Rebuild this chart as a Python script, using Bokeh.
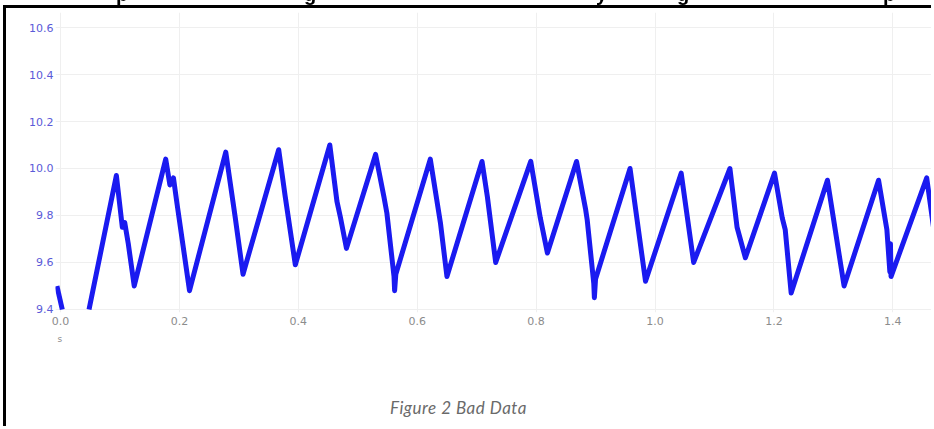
from bokeh.plotting import figure
from bokeh.models import Range1d, FixedTicker, NumeralTickFormatter, Title, Div
from bokeh.layouts import column
from bokeh.embed import file_html
from bokeh.resources import INLINE

# short spike at the start of the record
spike_t = [-0.006, 0.003]
spike_v = [9.50, 9.40]

# main trace (key points)
trace_t = [0.048, 0.094, 0.104, 0.108, 0.114, 0.124, 0.177, 0.184, 0.190, 0.196, 0.217,
           0.278, 0.290, 0.294, 0.307, 0.367, 0.378, 0.395, 0.453, 0.465, 0.471, 0.481,
           0.530, 0.544, 0.549, 0.561, 0.562, 0.564, 0.622, 0.639, 0.650, 0.709, 0.718,
           0.732, 0.791, 0.807, 0.819, 0.868, 0.883, 0.886, 0.897, 0.898, 0.900, 0.958,
           0.984, 1.044, 1.065, 1.126, 1.138, 1.152, 1.201, 1.214, 1.219, 1.229, 1.290,
           1.318, 1.376, 1.390, 1.395, 1.396, 1.397, 1.457, 1.470]
trace_v = [9.40, 9.97, 9.75, 9.77, 9.68, 9.50, 10.04, 9.93, 9.96, 9.85, 9.48,
           10.07, 9.86, 9.79, 9.55, 10.08, 9.88, 9.59, 10.10, 9.86, 9.79, 9.66,
           10.06, 9.88, 9.81, 9.54, 9.48, 9.55, 10.04, 9.77, 9.54, 10.03, 9.88,
           9.60, 10.03, 9.79, 9.64, 10.03, 9.83, 9.78, 9.51, 9.45, 9.53, 10.00,
           9.52, 9.98, 9.60, 10.00, 9.75, 9.62, 9.98, 9.79, 9.74, 9.47, 9.95,
           9.50, 9.95, 9.74, 9.56, 9.68, 9.54, 9.96, 9.72]

y_ticks = [9.4, 9.6, 9.8, 10.0, 10.2, 10.4, 10.6]
x_ticks = [0.0, 0.2, 0.4, 0.6, 0.8, 1.0, 1.2, 1.4]
x_unit = "s"
caption = "Figure 2 Bad Data"
# only the descenders of the cut-off heading above the box are visible
title_letters = ["p", "g", "y", "g", "p"]
title_letter_px = [116, 304, 596, 677, 883]

spans = "".join(
    f'<span style="position:fixed;left:{x}px;top:-16px;font-weight:bold;line-height:20px;'
    f'font-size:20px;font-family:\'Liberation Sans\';color:black;">{ch}</span>'
    for ch, x in zip(title_letters, title_letter_px))
top_div = Div(text=f'<div style="width:934px;height:5px;">{spans}</div>',
              width=934, height=5, margin=(0, 0, 0, 0))

p = figure(width=928, height=342, output_backend="svg", toolbar_location=None,
           x_range=Range1d(-0.0084, 1.4701), y_range=Range1d(9.387, 10.664),
           min_border_left=49, min_border_right=0, min_border_top=4, min_border_bottom=38)
p.margin = (0, 0, 0, 3)
p.styles = {"border-left": "3px solid black", "border-top": "3px solid black"}
p.outline_line_color = None
p.background_fill_color = "white"
p.border_fill_color = "white"

p.line(spike_t, spike_v, line_color="#1a1af0", line_width=5)
p.line(trace_t, trace_v, line_color="#1a1af0", line_width=5, line_join="round")

p.xaxis.ticker = FixedTicker(ticks=x_ticks)
p.yaxis.ticker = FixedTicker(ticks=y_ticks)
p.xgrid.ticker = FixedTicker(ticks=x_ticks)
p.ygrid.ticker = FixedTicker(ticks=y_ticks)
p.xaxis.formatter = NumeralTickFormatter(format="0.0")
p.yaxis.formatter = NumeralTickFormatter(format="0.0")
for ax in (p.xaxis, p.yaxis):
    ax.axis_line_color = None
    ax.major_tick_line_color = None
    ax.minor_tick_line_color = None
    ax.major_tick_in = 0
    ax.major_tick_out = 0
    ax.major_label_text_font = "DejaVu Sans"
    ax.major_label_text_font_size = "11px"
p.xaxis.major_label_text_color = "#8c8c8c"
p.yaxis.major_label_text_color = "#5a5ad8"
p.xaxis.major_label_standoff = 4
p.yaxis.major_label_standoff = 2
p.xgrid.grid_line_color = "#efefef"
p.ygrid.grid_line_color = "#efefef"

p.add_layout(Title(text=x_unit, align="left", offset=2, standoff=9,
                   text_font="DejaVu Sans", text_font_style="normal",
                   text_font_size="9px", text_color="#8c8c8c"), "below")

cap_div = Div(
    text=(f'<div style="position:relative;width:928px;height:79px;">'
          f'<span style="position:absolute;left:384px;top:51px;line-height:20px;'
          f'font-family:Lato;font-style:italic;font-size:17px;letter-spacing:0.5px;'
          f'color:#6a6a6a;white-space:nowrap;">{caption}</span></div>'),
    width=928, height=79, margin=(0, 0, 0, 3),
    styles={"border-left": "3px solid black"})

layout = column(top_div, p, cap_div, spacing=0)
open("out.html", "w").write(file_html(layout, INLINE))
